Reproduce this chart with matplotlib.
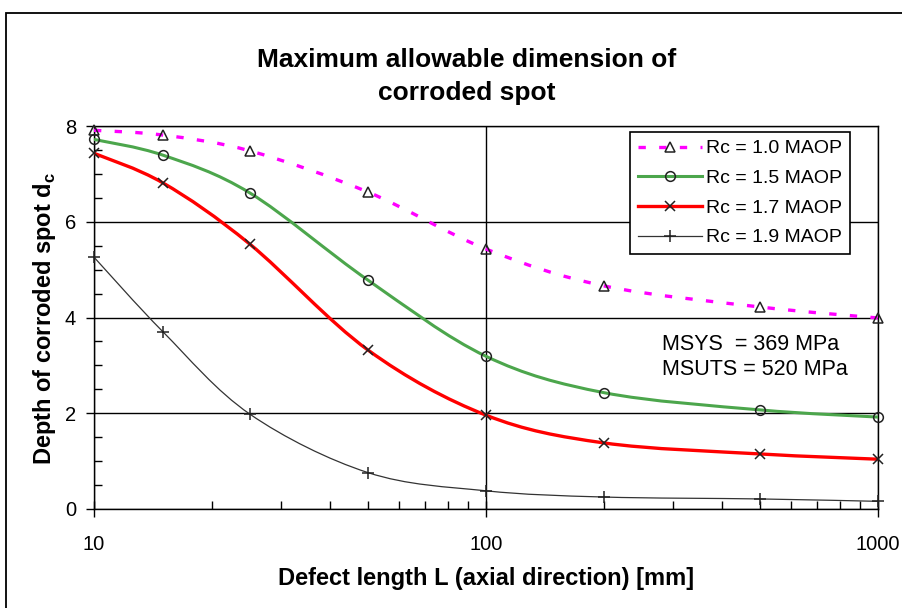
import numpy as np
import matplotlib
matplotlib.use("Agg")
import matplotlib.pyplot as plt
from matplotlib.path import Path
from matplotlib.patches import PathPatch, Rectangle
from matplotlib.lines import Line2D
from matplotlib.ticker import MultipleLocator, LogLocator, NullFormatter, FixedLocator, FixedFormatter

plt.rcParams['font.family'] = ['Liberation Sans', 'DejaVu Sans']

# defect length L [mm]
lengths = [10, 15, 25, 50, 100, 200, 500, 1000]

# depth of corroded spot d_c for each pressure ratio
rc_10 = [7.91, 7.81, 7.48, 6.62, 5.43, 4.66, 4.22, 3.99]
rc_15 = [7.72, 7.39, 6.60, 4.78, 3.19, 2.43, 2.07, 1.92]
rc_17 = [7.43, 6.81, 5.53, 3.32, 1.96, 1.38, 1.15, 1.04]
rc_19 = [5.26, 3.70, 1.98, 0.76, 0.38, 0.25, 0.21, 0.16]

labels = ["Rc = 1.0 MAOP", "Rc = 1.5 MAOP", "Rc = 1.7 MAOP", "Rc = 1.9 MAOP"]

W, H = 903, 608


def px(x, y):
    # pixel position (from top-left) -> figure fraction
    return x / W, 1 - y / H


def smooth_path(xs, ys):
    # Excel-style smoothed line: Catmull-Rom segments as cubic Beziers in log-x space
    lx = np.log10(xs)
    y = np.asarray(ys, dtype=float)
    pts = np.column_stack([lx, y])
    n = len(pts)
    verts = [pts[0]]
    codes = [Path.MOVETO]
    for i in range(n - 1):
        p0 = pts[i - 1] if i > 0 else pts[i]
        p1 = pts[i]
        p2 = pts[i + 1]
        p3 = pts[i + 2] if i + 2 < n else pts[i + 1]
        c1 = p1 + (p2 - p0) / 6.0
        c2 = p2 - (p3 - p1) / 6.0
        verts += [c1, c2, p2]
        codes += [Path.CURVE4] * 3
    verts = np.array(verts)
    verts[:, 0] = 10 ** verts[:, 0]
    return Path(verts, codes)


fig = plt.figure(figsize=(W / 100, H / 100), dpi=100)
ax = fig.add_axes([94 / W, 1 - 509 / H, 784 / W, 383 / H])

ax.set_xscale('log')
ax.set_xlim(10, 1000)
ax.set_ylim(0, 8)

series = [
    (rc_10, dict(color='#ff00ff', lw=2.4, ls=(0, (2.2, 4))), '^', 7),
    (rc_15, dict(color='#4ca64c', lw=2.2, ls='-'), 'o', 7),
    (rc_17, dict(color='#ff0000', lw=2.4, ls='-'), 'x', 7),
    (rc_19, dict(color='#333333', lw=0.9, ls='-'), '+', 9),
]

handles = []
for (vals, style, mk, ms), lab in zip(series, labels):
    patch = PathPatch(smooth_path(lengths, vals), facecolor='none',
                      edgecolor=style['color'], lw=style['lw'], ls=style['ls'],
                      capstyle='butt', zorder=3)
    ax.add_patch(patch)
    ax.plot(lengths, vals, ls='none', marker=mk, ms=ms, mfc='none',
            mec='#222222', mew=1.1, zorder=4, clip_on=False)
    handles.append(Line2D([], [], color=style['color'], lw=style['lw'], ls=style['ls'],
                          marker=mk, ms=ms, mfc='none', mec='#222222', mew=1.1))

# grid and ticks
ax.yaxis.set_major_locator(MultipleLocator(2))
ax.yaxis.set_minor_locator(MultipleLocator(0.5))
ax.xaxis.set_major_locator(FixedLocator([10, 100, 1000]))
ax.xaxis.set_major_formatter(FixedFormatter(['10', '100', '1000']))
ax.xaxis.set_minor_locator(LogLocator(base=10, subs=np.arange(2, 10)))
ax.xaxis.set_minor_formatter(NullFormatter())
ax.grid(True, which='major', color='black', lw=1.0)
ax.tick_params(axis='y', which='major', direction='out', length=6, width=1, labelsize=14.5, pad=7)
ax.tick_params(axis='y', which='minor', direction='in', length=6, width=1)
ax.tick_params(axis='x', which='major', direction='inout', length=12, width=1, labelsize=14.5, pad=13)
ax.tick_params(axis='x', which='minor', direction='in', length=6, width=1)
for s in ax.spines.values():
    s.set_linewidth(1.0)

fig.text(*px(486, 585), "Defect length L (axial direction) [mm]",
         fontsize=17, fontweight='bold', ha='center', va='baseline')
fig.text(*px(45, 318), "Depth of corroded spot d$_\\mathregular{c}$",
         fontsize=17, fontweight='bold', ha='center', va='center', rotation=90)

fig.text(*px(467, 67), "Maximum allowable dimension of",
         ha='center', va='baseline', fontsize=19, fontweight='bold')
fig.text(*px(467, 100), "corroded spot",
         ha='center', va='baseline', fontsize=19, fontweight='bold')

leg = ax.legend(handles=handles, labels=labels, loc='upper right',
                bbox_to_anchor=((850 - 94) / 784, (509 - 132) / 383), borderaxespad=0,
                fontsize=14, frameon=True, fancybox=False, edgecolor='black',
                framealpha=1, handlelength=3.3, borderpad=0.4, labelspacing=0.62,
                handletextpad=0.2)
leg.get_frame().set_linewidth(1.2)
leg.set_zorder(5)

fig.text(*px(662, 350), "MSYS  = 369 MPa", fontsize=15.5, ha='left', va='baseline')
fig.text(*px(662, 375), "MSUTS = 520 MPa", fontsize=15.5, ha='left', va='baseline')

# outer chart border (partially visible in the reference)
fig.patches.append(Rectangle((6 / W, -0.1), 1.2, 1 - 13 / H + 0.1,
                             transform=fig.transFigure, fill=False, lw=1.3,
                             edgecolor='black'))

fig.savefig("out.png", dpi=100)
